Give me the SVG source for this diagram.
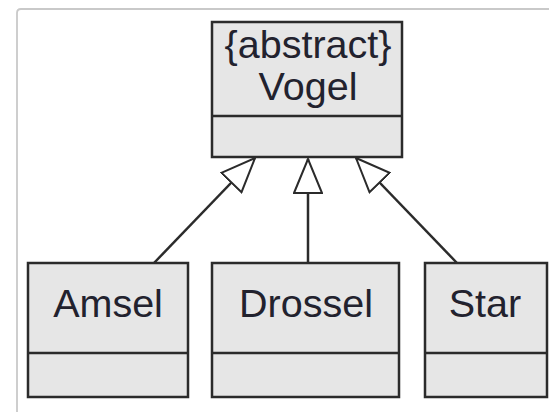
<svg xmlns="http://www.w3.org/2000/svg" width="549" height="412" viewBox="0 0 549 412">
<style>
.box{fill:#e6e6e6;stroke:#2b2b2b;stroke-width:2.5}
.div{stroke:#2b2b2b;stroke-width:2.5}
.lbl{font-family:"Liberation Sans",Arial,sans-serif;font-size:39.5px;fill:#22222e;text-anchor:middle}
.edge{stroke:#2b2b2b;stroke-width:2.5;fill:none;marker-end:url(#tri)}
</style>
<defs>
<marker id="tri" viewBox="0 0 36 30" refX="35" refY="15" markerWidth="36" markerHeight="30" markerUnits="userSpaceOnUse" orient="auto">
<path d="M1,1 L35,15 L1,29 Z" fill="#ffffff" stroke="#2b2b2b" stroke-width="2"/>
</marker>
</defs>
<rect width="549" height="412" fill="#ffffff"/>
<path d="M17,420 L17,13 Q17,9 21,9 L560,9" fill="none" stroke="#c9c9c9" stroke-width="1.8"/>
<g id="connectors">
<line class="edge" x1="154" y1="263" x2="255" y2="158"/>
<line class="edge" x1="308" y1="263" x2="308" y2="159"/>
<line class="edge" x1="457" y1="263" x2="356" y2="158"/>
</g>
<g id="vogel">
<rect class="box" x="212" y="22" width="190" height="135"/>
<line class="div" x1="212" y1="116" x2="402" y2="116"/>
<text class="lbl" x="308" y="58">{abstract}</text>
<text class="lbl" x="308" y="100">Vogel</text>
</g>
<g id="amsel">
<rect class="box" x="28" y="263" width="160" height="134"/>
<line class="div" x1="28" y1="353" x2="188" y2="353"/>
<text class="lbl" x="108" y="317">Amsel</text>
</g>
<g id="drossel">
<rect class="box" x="212" y="263" width="187" height="134"/>
<line class="div" x1="212" y1="353" x2="399" y2="353"/>
<text class="lbl" x="306" y="317">Drossel</text>
</g>
<g id="star">
<rect class="box" x="425" y="263" width="122" height="134"/>
<line class="div" x1="425" y1="353" x2="547" y2="353"/>
<text class="lbl" x="485" y="317">Star</text>
</g>
</svg>
